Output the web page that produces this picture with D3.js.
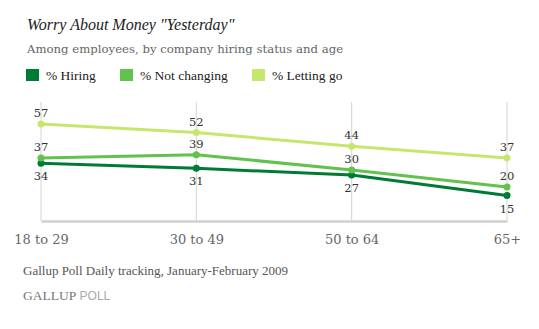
<!DOCTYPE html>
<html>
<head>
<meta charset="utf-8">
<script src="https://cdn.jsdelivr.net/npm/d3@7"></script>
<style>
  body { margin: 0; background: #fff; }
  text { font-family: "DejaVu Serif", serif; }
  .times { font-family: "Liberation Serif", "Times New Roman", serif; }
</style>
</head>
<body>
<div id="chart"></div>
<script>
const categories = ['18 to 29', '30 to 49', '50 to 64', '65+'];
const hiring = [34, 31, 27, 15];
const notChanging = [37, 39, 30, 20];
const lettingGo = [57, 52, 44, 37];

const series = [
    { name: '% Hiring', values: hiring, color: '#007b36', below: true },
    { name: '% Not changing', values: notChanging, color: '#62c24e', below: false },
    { name: '% Letting go', values: lettingGo, color: '#c5e86c', below: false }
];

const fmt = {
    width: 539,
    height: 329,
    margins: { left: 41, right: 32, top: 102, bottom: 108 }
};

let svg = d3.select('#chart').append('svg')
    .attr('width', fmt.width)
    .attr('height', fmt.height);

let width = fmt.width - fmt.margins.left - fmt.margins.right,
    height = fmt.height - fmt.margins.top - fmt.margins.bottom;

let x = d3.scalePoint().domain(categories).range([0, width]),
    y = d3.scaleLinear().domain([0, 70]).range([height, 0]);

let g = svg.append('g')
    .attr('transform', 'translate(' + fmt.margins.left + ',' + fmt.margins.top + ')');

// vertical grid lines
g.selectAll('.grid')
    .data(categories)
    .enter().append('line')
    .attr('x1', (d) => x(d))
    .attr('x2', (d) => x(d))
    .attr('y1', 0)
    .attr('y2', height)
    .attr('stroke', '#d4d4d4')
    .attr('stroke-width', 1);

// baseline + tick labels
let bottom = g.append('g')
    .attr('transform', 'translate(0,' + height + ')')
    .call(d3.axisBottom(x).tickSize(0).tickPadding(14));
bottom.select('.domain').attr('stroke', '#d0d0cc').attr('stroke-width', 2.5);
bottom.selectAll('.tick text')
    .attr('fill', '#666')
    .attr('font-family', null)
    .attr('font-size', null)
    .style('font-size', '13px');

let line = d3.line()
    .x((d, i) => x(categories[i]))
    .y((d) => y(d));

series.forEach((s) => {
    g.append('path').datum(s.values)
        .attr('fill', 'none')
        .attr('stroke', s.color)
        .attr('stroke-width', 3)
        .attr('d', line);

    g.selectAll(null)
        .data(s.values)
        .enter().append('circle')
        .attr('cx', (d, i) => x(categories[i]))
        .attr('cy', (d) => y(d))
        .attr('r', 3.5)
        .attr('fill', s.color);

    g.selectAll(null)
        .data(s.values)
        .enter().append('text')
        .attr('x', (d, i) => x(categories[i]))
        .attr('y', (d) => y(d) + (s.below ? 17 : -7))
        .attr('text-anchor', 'middle')
        .attr('fill', '#333')
        .style('font-size', '11.5px')
        .text((d) => d);
});

// titles
svg.append('text')
    .attr('class', 'times')
    .attr('x', 27)
    .attr('y', 30)
    .attr('fill', '#222')
    .style('font-size', '16px')
    .style('font-style', 'italic')
    .text('Worry About Money "Yesterday"');

svg.append('text')
    .attr('x', 27)
    .attr('y', 53)
    .attr('fill', '#666')
    .style('font-size', '11.7px')
    .text('Among employees, by company hiring status and age');

// legend
let legendX = [26, 120, 252];
let legend = svg.selectAll('.legend')
    .data(series)
    .enter().append('g')
    .attr('transform', (d, i) => 'translate(' + legendX[i] + ',69)');
legend.append('rect')
    .attr('width', 13)
    .attr('height', 12)
    .attr('fill', (d) => d.color);
legend.append('text')
    .attr('class', 'times')
    .attr('x', 20)
    .attr('y', 11)
    .attr('fill', '#222')
    .style('font-size', '13.5px')
    .text((d) => d.name);

// footer
svg.append('text')
    .attr('class', 'times')
    .attr('x', 23)
    .attr('y', 275)
    .attr('fill', '#555')
    .style('font-size', '13px')
    .text('Gallup Poll Daily tracking, January-February 2009');

let brand = svg.append('text')
    .attr('x', 23)
    .attr('y', 300)
    .style('font-size', '12px');
brand.append('tspan')
    .attr('class', 'times')
    .attr('fill', '#777')
    .style('font-size', '13.5px')
    .text('GALLUP');
brand.append('tspan')
    .attr('fill', '#aaa')
    .style('font-family', '"Liberation Sans", Arial, sans-serif')
    .text(' POLL');
</script>
</body>
</html>
